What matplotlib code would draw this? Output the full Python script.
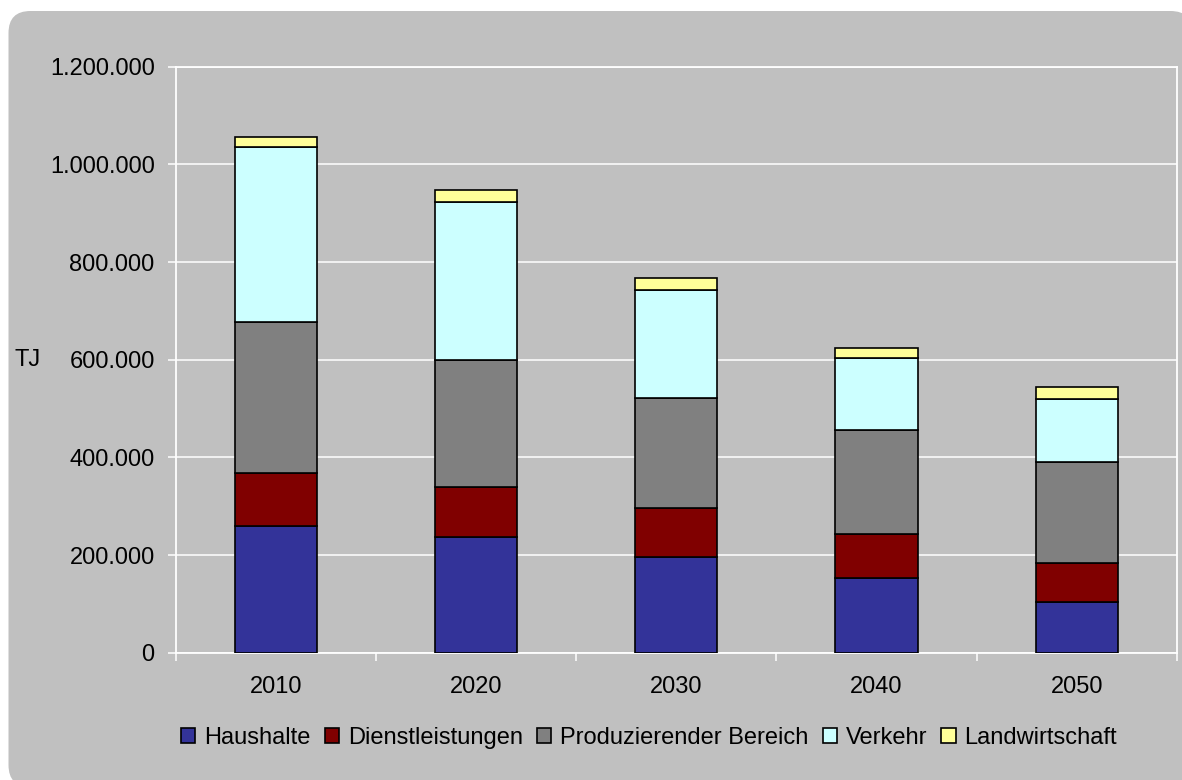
import matplotlib
matplotlib.use("Agg")
import matplotlib.pyplot as plt
from matplotlib.patches import FancyBboxPatch
from matplotlib.ticker import FuncFormatter, FixedLocator
import numpy as np

plt.rcParams['font.family'] = ['Liberation Sans', 'DejaVu Sans']

years = ["2010", "2020", "2030", "2040", "2050"]
haushalte = [259600, 236400, 196700, 152500, 104600]
dienstleistungen = [109100, 103600, 99100, 90700, 79800]
produzierender = [307800, 260000, 225200, 212900, 206800]
verkehr = [359500, 323400, 221700, 146800, 128300]
landwirtschaft = [20500, 24600, 25100, 20400, 24600]

series = [
    ("Haushalte", haushalte, "#333399"),
    ("Dienstleistungen", dienstleistungen, "#800000"),
    ("Produzierender Bereich", produzierender, "#808080"),
    ("Verkehr", verkehr, "#CCFFFF"),
    ("Landwirtschaft", landwirtschaft, "#FFFF99"),
]

W, H = 1182, 780
fig = plt.figure(figsize=(W / 100, H / 100), dpi=100, facecolor="white")

# background rounded box
bg = fig.add_axes([0, 0, 1, 1], zorder=0)
bg.set_xlim(0, W)
bg.set_ylim(H, 0)
bg.axis("off")
bg.add_patch(FancyBboxPatch((8.5, 11), 1184, 776, boxstyle="round,pad=0,rounding_size=22",
                            facecolor="#C0C0C0", edgecolor="none", clip_on=True))

left, right, top, bottom = 176, 1176.7, 66.7, 652.8
ax = fig.add_axes([left / W, (H - bottom) / H, (right - left) / W, (bottom - top) / H], zorder=1)
ax.set_facecolor("#C0C0C0")

x = np.arange(len(years))
base = np.zeros(len(years))
handles = []
for name, vals, col in series:
    b = ax.bar(x, vals, width=0.41, bottom=base, color=col, edgecolor="black",
               linewidth=1.2, label=name, zorder=3)
    handles.append(b)
    base = base + np.array(vals)

ax.set_xlim(-0.5, len(years) - 0.5)
ax.set_ylim(0, 1200000)
ax.yaxis.set_major_locator(FixedLocator(np.arange(0, 1200001, 200000)))
ax.yaxis.set_major_formatter(FuncFormatter(lambda v, p: f"{int(v):,}".replace(",", ".")))
ax.grid(axis="y", color="white", linewidth=1.1, zorder=0)
ax.set_axisbelow(True)

ax.set_xticks(x)
ax.set_xticklabels(years)
ax.set_xticks(np.arange(-0.5, len(years)), minor=True)
ax.tick_params(axis="x", which="major", length=0, pad=17, labelsize=17, colors="black")
ax.tick_params(axis="x", which="minor", length=5.5, width=1.1, color="white", direction="out")
ax.tick_params(axis="y", length=5.8, width=1.1, color="white", pad=9.5, labelsize=17, labelcolor="black")

for s in ax.spines.values():
    s.set_color("white")
    s.set_linewidth(1.3)

fig.text(28 / W, 1 - 360 / H, "TJ", fontsize=17, ha="center", va="center")

fig.legend(handles=handles, labels=[s[0] for s in series], loc="center",
           bbox_to_anchor=(649 / W, 1 - 738 / H), ncol=5, frameon=False, fontsize=17,
           handlelength=0.6, handleheight=0.6, handletextpad=0.38, columnspacing=0.6,
           borderaxespad=0, borderpad=0)

fig.savefig("out.png", dpi=100, facecolor="white")
